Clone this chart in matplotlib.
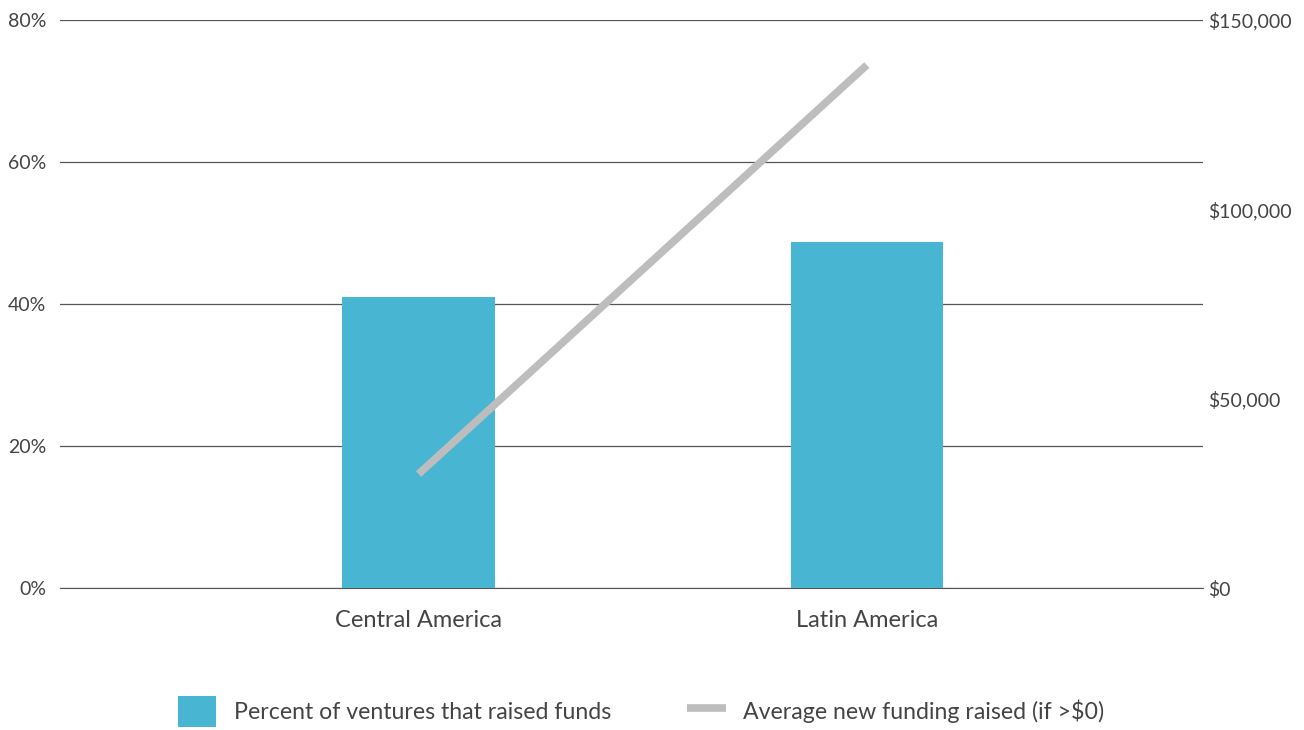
import numpy as np
import matplotlib.pyplot as plt
from matplotlib.ticker import FuncFormatter

plt.rcParams['font.family'] = ['Lato', 'DejaVu Sans']
plt.rcParams['font.weight'] = 'normal'

# data
regions = ["Central America", "Latin America"]
pct_raised = [41.0, 48.7]
avg_funding = [30100, 138100]

bar_color = "#48B6D2"
line_color = "#BDBDBD"
text_color = "#444444"

fig = plt.figure(figsize=(13.04, 7.30), dpi=100)
ax = fig.add_axes([60/1304, 1-588/730, (1203-60)/1304, (588-20)/730])
ax2 = ax.twinx()

x = np.arange(len(regions))
bars = ax.bar(x, pct_raised, width=0.34, color=bar_color, zorder=3,
              label="Percent of ventures that raised funds")
line, = ax2.plot(x, avg_funding, color=line_color, lw=5.5, solid_capstyle='butt',
                 label="Average new funding raised (if >$0)")

ax.set_xlim(-0.8, 1.75)
ax.set_ylim(0, 80)
ax.set_yticks([0, 20, 40, 60, 80])
ax.yaxis.set_major_formatter(FuncFormatter(lambda v, p: f"{v:.0f}%"))
ax.grid(axis='y', color="#555555", lw=0.9, zorder=0)
ax.set_xticks(x)
ax.set_xticklabels(regions)

ax2.set_ylim(0, 150000)
ax2.set_yticks([0, 50000, 100000, 150000])
ax2.yaxis.set_major_formatter(FuncFormatter(lambda v, p: f"${v:,.0f}"))

for a in (ax, ax2):
    for s in a.spines.values():
        s.set_visible(False)
    a.tick_params(length=0, labelsize=14, colors=text_color)
ax.tick_params(axis='x', labelsize=17, pad=16)
ax.tick_params(axis='y', pad=10)
ax2.tick_params(axis='y', pad=4)
ax.spines['bottom'].set_visible(True)
ax.spines['bottom'].set_color("#555555")
ax.set_zorder(ax2.get_zorder() - 1)
ax2.patch.set_visible(False)
ax.patch.set_visible(True)

leg = fig.legend(handles=[bars, line], loc='center', bbox_to_anchor=(641/1304, 0.025),
                 ncol=2, frameon=False, fontsize=16.7, handlelength=1.65, handleheight=1.65,
                 columnspacing=3.3, handletextpad=0.75)
for t in leg.get_texts():
    t.set_color(text_color)

fig.savefig("out.png", dpi=100)
